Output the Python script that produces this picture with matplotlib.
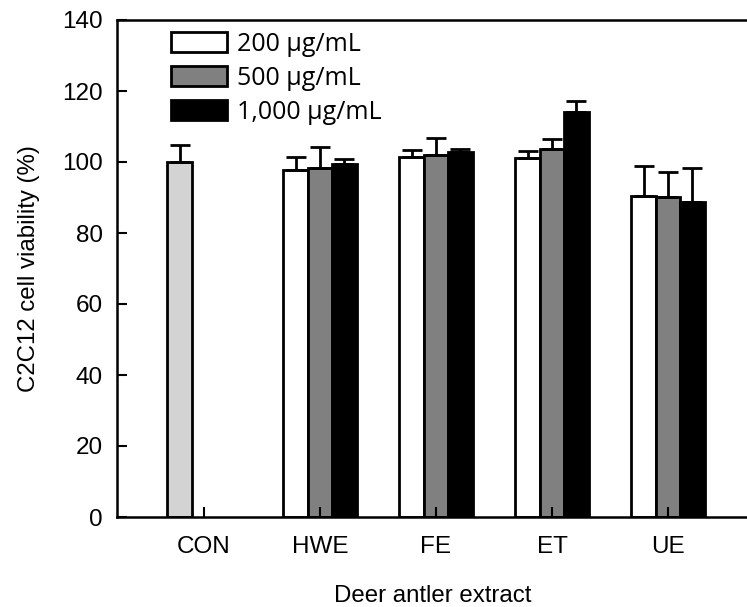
import matplotlib
matplotlib.use("Agg")
import matplotlib.pyplot as plt
from matplotlib.patches import Patch
import numpy as np

categories = ["CON", "HWE", "FE", "ET", "UE"]
series_labels = ["200 µg/mL", "500 µg/mL", "1,000 µg/mL"]
con_value = 100.0
con_err = 4.7
v200 = [97.8, 101.4, 101.2, 90.4]
e200 = [3.7, 1.9, 1.8, 8.6]
v500 = [98.3, 102.0, 103.6, 90.1]
e500 = [6.0, 4.8, 2.9, 7.2]
v1000 = [99.4, 102.8, 114.1, 88.7]
e1000 = [1.4, 0.8, 3.1, 9.6]

plt.rcParams['font.family'] = ['Liberation Sans', 'DejaVu Sans']

W, H = 747, 607
fig = plt.figure(figsize=(W / 100, H / 100), dpi=100)
x0, x1 = 117, 748
y0, y1 = 517, 20
ax = fig.add_axes([x0 / W, (H - y0) / H, (x1 - x0) / W, (y0 - y1) / H])

x = np.arange(len(categories))
bw = 0.21
ekw = dict(ecolor='black', elinewidth=2.0, capsize=7, capthick=2.0)
bar_kw = dict(edgecolor='black', linewidth=2.0)

ax.bar(x[0] - bw, con_value, bw, color='#d3d3d3', yerr=[[0], [con_err]], error_kw=ekw, **bar_kw)
colors = ['white', '#808080', 'black']
vals = [v200, v500, v1000]
errs = [e200, e500, e1000]
for i, (v, e, c) in enumerate(zip(vals, errs, colors)):
    xs = x[1:] + (i - 1) * bw
    ax.bar(xs, v, bw, color=c, yerr=[np.zeros(len(e)), e], error_kw=ekw, **bar_kw)

ax.set_xlim((x0 - 204) / 116, (x1 - 204) / 116)
ax.set_ylim(0, 140)
ax.set_yticks(np.arange(0, 141, 20))
ax.set_xticks(x)
ax.set_xticklabels(categories)
ax.tick_params(direction='in', length=7, width=1.5, labelsize=17.5)
ax.tick_params(axis='x', pad=14)
ax.tick_params(axis='y', pad=10)
for s in ['left', 'bottom', 'top']:
    ax.spines[s].set_linewidth(1.8)
ax.spines['right'].set_visible(False)

ax.set_ylabel("C2C12 cell viability (%)", fontsize=17.3, labelpad=16)
ax.set_xlabel("Deer antler extract", fontsize=17.3, labelpad=19)

handles = [Patch(facecolor=c, edgecolor='black', linewidth=2.0) for c in colors]
fs = 18
ax.legend(handles, series_labels, loc='upper left', bbox_to_anchor=(171 / W, 1 - 32 / H),
          bbox_transform=fig.transFigure, frameon=False, borderpad=0, borderaxespad=0,
          handlelength=2.24, handleheight=0.86, handletextpad=0.4, labelspacing=0.36,
          prop={'family': ['Open Sans', 'DejaVu Sans'], 'size': fs})

fig.savefig("out.png", dpi=100)
